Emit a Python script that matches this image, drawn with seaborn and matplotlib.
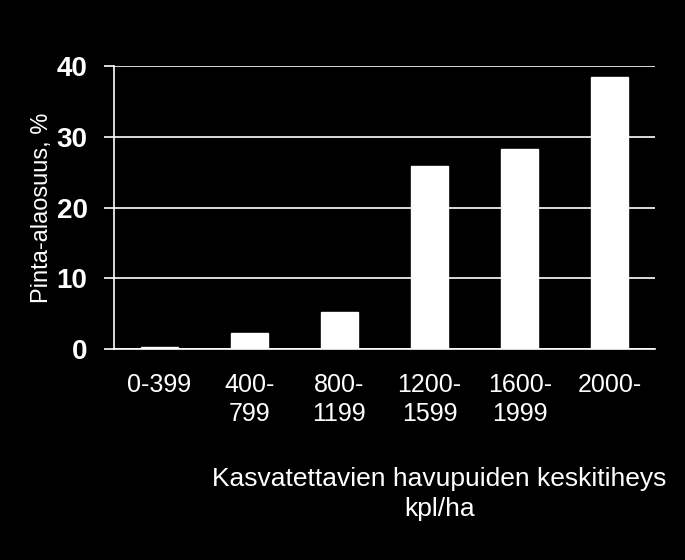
import numpy as np
import pandas as pd
import matplotlib
matplotlib.use('Agg')
import matplotlib.pyplot as plt
import seaborn as sns

# data
categories = ['0-399', '400-\n799', '800-\n1199', '1200-\n1599', '1600-\n1999', '2000-']
shares = [0.3, 2.2, 5.2, 25.9, 28.2, 38.4]
y_ticks = [0, 10, 20, 30, 40]

df = pd.DataFrame({'luokka': categories, 'osuus': shares})

sns.set_style('dark')
plt.rcParams['font.family'] = ['Liberation Sans', 'DejaVu Sans']

fig = plt.figure(figsize=(6.85, 5.6), dpi=100, facecolor='black')
ax = fig.add_axes([0.1664, 0.3768, 0.7898, 0.5053])
ax.set_facecolor('black')

sns.barplot(data=df, x='luokka', y='osuus', color='white', width=0.41,
            saturation=1, ax=ax, zorder=3)

ax.set_ylim(0, 40)
ax.set_xlim(-0.5, len(categories) - 0.5)
ax.set_yticks(y_ticks)
ax.set_yticklabels([str(t) for t in y_ticks], fontsize=20, fontweight='bold', color='white')
ax.yaxis.grid(True, color='white', linewidth=1.2, zorder=1)
ax.xaxis.grid(False)

# category labels centred under bars, tick marks on the boundaries
ax.set_xticks(range(len(categories)))
ax.set_xticklabels(categories, fontsize=18, color='white', linespacing=1.3)
ax.tick_params(axis='x', which='major', length=0, pad=17)
ax.set_xticks(np.arange(-0.5, len(categories)), minor=True)
ax.tick_params(axis='x', which='minor', length=8, width=1.2, color='white', direction='out')
ax.tick_params(axis='y', length=7, width=1.2, color='white', direction='out', pad=12, left=True)

for side in ['top', 'right']:
    ax.spines[side].set_visible(False)
for side in ['left', 'bottom']:
    ax.spines[side].set_visible(True)
    ax.spines[side].set_color('white')
    ax.spines[side].set_linewidth(1.2)
    ax.spines[side].set_zorder(4)

ax.set_xlabel('')
ax.set_ylabel('Pinta-alaosuus, %', fontsize=17, color='white')
ax.yaxis.set_label_coords(-0.113, 0.5)

fig.text(0.641, 0.118, 'Kasvatettavien havupuiden keskitiheys\nkpl/ha',
         ha='center', va='center', fontsize=19, color='white', linespacing=1.35)

fig.savefig('out.png', dpi=100, facecolor='black')
